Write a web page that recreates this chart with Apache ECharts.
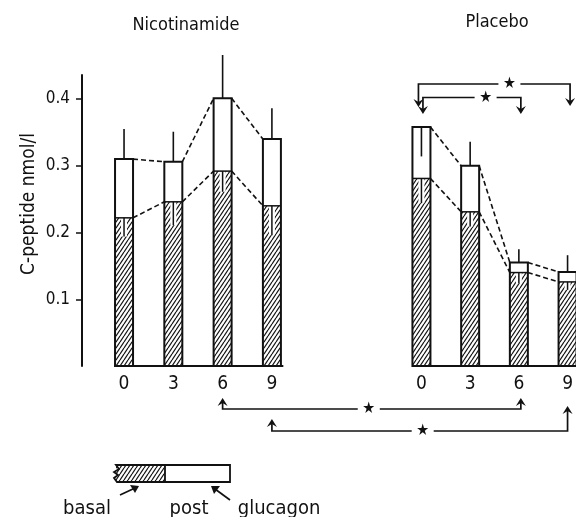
<!DOCTYPE html>
<html>
<head>
<meta charset="utf-8">
<script src="https://cdn.jsdelivr.net/npm/echarts@6/dist/echarts.min.js"></script>
<style>html,body{margin:0;padding:0;background:#fff;}#c{width:576px;height:517px;}</style>
</head>
<body>
<div id="c"></div>
<script>
// ---- data ----
const months = [0, 3, 6, 9];
const nicBasal = [0.222, 0.246, 0.292, 0.240];
const nicPost = [0.310, 0.306, 0.401, 0.340];
const nicPostSE = [0.045, 0.045, 0.065, 0.046];
const nicBasalSE = [0.028, 0.035, 0.031, 0.044];
const plaBasal = [0.281, 0.231, 0.140, 0.126];
const plaPost = [0.358, 0.300, 0.155, 0.141];
const plaPostSE = [0.044, 0.036, 0.020, 0.025];
const plaBasalSE = [0.037, 0.022, 0.016, 0.012];
const plaPostSEDown = [1, 0, 0, 0];
const nicPostSEDown = [0, 0, 0, 0];
const yTicks = [0.1, 0.2, 0.3, 0.4];
const panelTitles = ['Nicotinamide', 'Placebo'];
const yAxisTitle = 'C-peptide nmol/l';
const legendLabels = ['basal', 'post', 'glucagon'];
// significance comparisons: [grid, month] -> [grid, month]
const sigTop = [[1, 0, 1, 9], [1, 0, 1, 6]];
const sigBottom = [[0, 6, 1, 6], [0, 9, 1, 9]];

const FONT = "'DejaVu Sans Condensed', 'DejaVu Sans', sans-serif";
const chart = echarts.init(document.getElementById('c'), null, {renderer: 'canvas'});

// hatch pattern
const hc = document.createElement('canvas');
hc.width = 4; hc.height = 6;
const hx = hc.getContext('2d');
hx.fillStyle = '#fff'; hx.fillRect(0, 0, 4, 6);
hx.strokeStyle = '#111'; hx.lineWidth = 1.2;
[-4, 0, 4].forEach(ox => {
  hx.beginPath(); hx.moveTo(ox, 6); hx.lineTo(ox + 4, 0); hx.stroke();
});
const hatch = {image: hc, repeat: 'repeat'};

const BW = 18;
function renderBar(params, api) {
  const x = api.value(0), b = api.value(1), p = api.value(2);
  const pse = api.value(3), bse = api.value(4), down = api.value(5);
  const base = api.coord([x, 0]), pb = api.coord([x, b]), pp = api.coord([x, p]);
  const cx = base[0], left = cx - BW / 2;
  const pe = api.coord([x, down ? p - pse : p + pse])[1];
  const be = api.coord([x, b - bse])[1];
  return {
    type: 'group',
    children: [
      {type: 'rect', shape: {x: left, y: pb[1], width: BW, height: base[1] - pb[1]}, style: {fill: hatch}},
      {type: 'rect', shape: {x: left, y: pp[1], width: BW, height: pb[1] - pp[1]}, style: {fill: '#fff'}},
      {type: 'line', shape: {x1: cx, y1: pb[1], x2: cx, y2: be}, style: {stroke: '#fff', lineWidth: 6}},
      {type: 'line', shape: {x1: cx, y1: pb[1], x2: cx, y2: be}, style: {stroke: '#111', lineWidth: 1.5}},
      {type: 'line', shape: {x1: cx, y1: pp[1], x2: cx, y2: pe}, style: {stroke: '#111', lineWidth: 1.6}},
      {type: 'line', shape: {x1: left, y1: pb[1], x2: left + BW, y2: pb[1]}, style: {stroke: '#111', lineWidth: 1.5}},
      {type: 'rect', shape: {x: left, y: pp[1], width: BW, height: base[1] - pp[1]}, style: {fill: null, stroke: '#111', lineWidth: 2}}
    ]
  };
}
function renderDash(vals) {
  return function (params, api) {
    const i = params.dataIndex;
    const a = api.coord([months[i], vals[i]]);
    const b = api.coord([months[i + 1], vals[i + 1]]);
    return {type: 'line', shape: {x1: a[0] + BW / 2, y1: a[1], x2: b[0] - BW / 2, y2: b[1]},
      style: {stroke: '#111', lineWidth: 1.6, lineDash: [5, 3]}};
  };
}
function barData(basal, post, pse, bse, down) {
  return months.map((m, i) => [m, basal[i], post[i], pse[i], bse[i], down[i]]);
}
function dashData() { return months.slice(0, -1).map((m, i) => [m, i]); }

const PXU = 16.43;
const xAx = (gi, min, max) => ({
  type: 'value', gridIndex: gi, min: min, max: max,
  axisLine: {show: true, onZero: false, lineStyle: {color: '#111', width: 2}},
  axisTick: {show: false}, splitLine: {show: false},
  axisLabel: {customValues: months, color: '#111', fontSize: 19, fontFamily: FONT, margin: 9}
});
const yAx = (gi, show) => ({
  type: 'value', gridIndex: gi, min: 0, max: 0.436, offset: show ? 33 : 0,
  show: show,
  axisLine: {show: show, onZero: false, lineStyle: {color: '#111', width: 2}},
  axisTick: {show: show, customValues: yTicks, length: 6, lineStyle: {color: '#111', width: 1.5}},
  splitLine: {show: false},
  axisLabel: {show: show, customValues: yTicks, color: '#111', fontSize: 17, fontFamily: FONT, margin: 12,
    formatter: v => v.toFixed(1)}
});

chart.setOption({
  animation: false,
  backgroundColor: '#fff',
  grid: [
    {left: 115, top: 75, width: 10.2 * PXU, height: 291},
    {left: 413, top: 75, right: 0, height: 291}
  ],
  xAxis: [xAx(0, -0.55, 9.65), xAx(1, -0.52, -0.52 + 163 / PXU)],
  yAxis: [yAx(0, true), yAx(1, false)],
  series: [
    {type: 'custom', xAxisIndex: 0, yAxisIndex: 0, renderItem: renderBar, data: barData(nicBasal, nicPost, nicPostSE, nicBasalSE, nicPostSEDown), z: 2},
    {type: 'custom', xAxisIndex: 1, yAxisIndex: 1, renderItem: renderBar, data: barData(plaBasal, plaPost, plaPostSE, plaBasalSE, plaPostSEDown), z: 2},
    {type: 'custom', xAxisIndex: 0, yAxisIndex: 0, renderItem: renderDash(nicPost), data: dashData(), z: 3},
    {type: 'custom', xAxisIndex: 0, yAxisIndex: 0, renderItem: renderDash(nicBasal), data: dashData(), z: 3},
    {type: 'custom', xAxisIndex: 1, yAxisIndex: 1, renderItem: renderDash(plaPost), data: dashData(), z: 3},
    {type: 'custom', xAxisIndex: 1, yAxisIndex: 1, renderItem: renderDash(plaBasal), data: dashData(), z: 3}
  ]
});

// ---- annotations ----
const X = (g, m) => chart.convertToPixel({gridIndex: g}, [m, 0])[0];
const g = [];
const LS = {stroke: '#111', lineWidth: 1.7, fill: null};
function arrowHead(x, y, dir) { // dir 1 = down, -1 = up
  g.push({type: 'polygon', shape: {points: [[x - 5, y - dir * 8], [x, y], [x + 5, y - dir * 8], [x, y - dir * 5]]}, style: {fill: '#111'}});
}
function star(x, y) {
  g.push({type: 'text', x: x, y: y, style: {text: '★', fill: '#111', font: '16px ' + FONT, align: 'center', verticalAlign: 'middle'}});
}
function bracket(c, yLine, tipY1, tipY2, off1, off2, frac, dir) {
  const x1 = X(c[0], c[1]) + off1, x2 = X(c[2], c[3]) + off2;
  const sx = x1 + (x2 - x1) * frac;
  g.push({type: 'polyline', shape: {points: [[x1, tipY1 - dir * 3], [x1, yLine], [sx - 11, yLine]]}, style: LS});
  g.push({type: 'polyline', shape: {points: [[sx + 11, yLine], [x2, yLine], [x2, tipY2 - dir * 3]]}, style: LS});
  arrowHead(x1, tipY1, dir); arrowHead(x2, tipY2, dir);
  star(sx, yLine);
}
bracket(sigTop[0], 84, 107, 106, -3, 2.5, 0.6, 1);
bracket(sigTop[1], 97.5, 114, 114, 1.5, 2, 0.64, 1);
bracket(sigBottom[0], 409, 398, 398, 0, 2, 0.49, -1);
bracket(sigBottom[1], 431, 419, 406, 0, 0, 0.51, -1);

// titles
g.push({type: 'text', x: 186, y: 25, style: {text: panelTitles[0], fill: '#111', font: '18px ' + FONT, align: 'center', verticalAlign: 'middle'}});
g.push({type: 'text', x: 497, y: 22, style: {text: panelTitles[1], fill: '#111', font: '18px ' + FONT, align: 'center', verticalAlign: 'middle'}});
g.push({type: 'text', x: 29, y: 204, rotation: Math.PI / 2, style: {text: yAxisTitle, fill: '#111', font: '19px ' + FONT, align: 'center', verticalAlign: 'middle'}});

// legend key
g.push({type: 'rect', shape: {x: 116, y: 465, width: 49, height: 17}, style: {fill: hatch}});
g.push({type: 'polyline', shape: {points: [[165, 465], [116, 465], [119, 469], [114, 472], [118, 475], [114, 478], [117, 482], [165, 482]]}, style: {stroke: '#111', lineWidth: 1.8, fill: null}});
g.push({type: 'rect', shape: {x: 165, y: 465, width: 65, height: 17}, style: {fill: '#fff', stroke: '#111', lineWidth: 1.8}});
g.push({type: 'line', shape: {x1: 120, y1: 495, x2: 135, y2: 488}, style: LS});
g.push({type: 'polygon', shape: {points: [[139, 486], [130, 485], [135, 493]]}, style: {fill: '#111'}});
g.push({type: 'line', shape: {x1: 230, y1: 500, x2: 215, y2: 489}, style: LS});
g.push({type: 'polygon', shape: {points: [[211, 486], [220, 486], [214, 494]]}, style: {fill: '#111'}});
const lt = (t, x) => g.push({type: 'text', x: x, y: 509, style: {text: t, fill: '#111', font: '20px ' + FONT, align: 'center', verticalAlign: 'middle'}});
lt(legendLabels[0], 87); lt(legendLabels[1], 189); lt(legendLabels[2], 279);

chart.setOption({graphic: g.map(e => Object.assign({z: 10, silent: true}, e))});
</script>
</body>
</html>
